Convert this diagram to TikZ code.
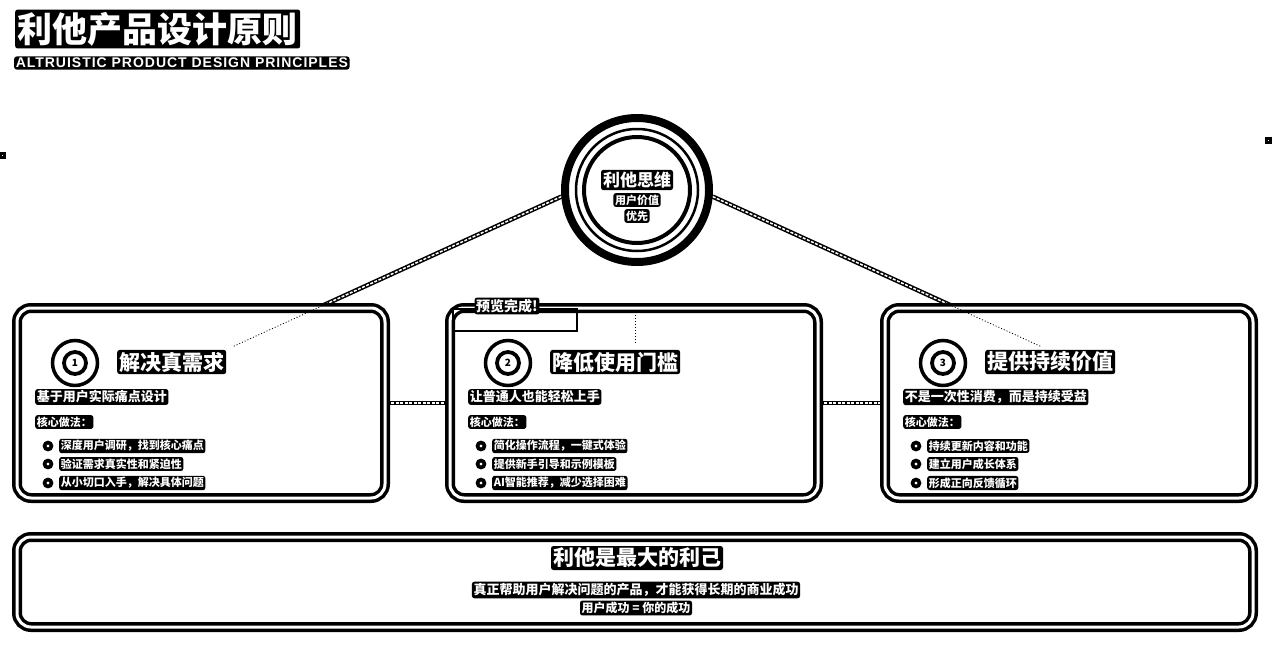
\documentclass[tikz,border=0pt]{standalone}
\usepackage{fontspec}
\setmainfont{Noto Sans CJK SC}
\newfontfamily\latinfont{Liberation Sans}[LetterSpace=7]
\usetikzlibrary{calc,backgrounds}

\tikzset{
    every node/.style={inner sep=0pt},
    haloed/.style={fill=black, text=white, rounded corners=2.5pt, inner sep=#1},
    haloed/.default=1.6pt,
    card/.style={draw=black, fill=white, line width=3.5pt, double=white, double distance=3pt,
        rounded corners=14pt, minimum width=368pt, minimum height=190pt},
    widecard/.style={card, minimum width=1236pt, minimum height=90pt},
    core/.style={circle, draw=black, fill=white, line width=8pt, minimum size=144pt},
    badge/.style={circle, draw=black, fill=white, line width=3.5pt, minimum size=45pt},
    badgecore/.style={circle, draw=black, fill=white, text=black, line width=3.8pt,
        minimum size=22pt, font=\bfseries\fontsize{10}{10}\selectfont},
    bulletmark/.style={circle, draw=black, fill=white, line width=3.6pt, minimum size=7pt},
    cardtitle/.style={haloed=2pt, anchor=west, font=\bfseries\fontsize{21}{23}\selectfont},
    cardlead/.style={haloed, anchor=west, font=\bfseries\fontsize{13}{15}\selectfont},
    cardsmall/.style={haloed, anchor=west, font=\bfseries\fontsize{11}{13}\selectfont},
    carditem/.style={haloed, anchor=west, font=\bfseries\fontsize{11}{13}\selectfont},
    linkband/.style={draw=black, line width=4.5pt,
        postaction={draw=white, line width=1.5pt, dash pattern=on 3pt off 1.5pt}},
    linkdot/.style={draw=black, line width=0.8pt, dash pattern=on 1pt off 2pt},
    speck/.style={rectangle, draw=black, fill=white, line width=3pt, minimum size=4pt},
}

\begin{document}
\begin{tikzpicture}[x=1pt, y=-1pt]
    \useasboundingbox (0,0) rectangle (1280,656);

    % Title
    \node[haloed=2.5pt, anchor=west, font=\bfseries\fontsize{35}{40}\selectfont] (title) at (15,29)
        {利他产品设计原则};
    \node[haloed=1.6pt, anchor=west, font=\latinfont\bfseries\fontsize{14}{16}\selectfont] (subtitle) at (14,63)
        {ALTRUISTIC PRODUCT DESIGN PRINCIPLES};

    % Specks
    \node[speck] (speckleft) at (2,155) {};
    \node[speck] (speckright) at (1268,140) {};

    % Core circle
    \node[core] (core) at (637,190) {};
    \draw[line width=2.5pt] (core.center) circle[radius=61pt];
    \draw[line width=4pt] (core.center) circle[radius=53pt];
    \node[haloed=2pt, font=\bfseries\fontsize{17}{19}\selectfont] (coretitle) at (637,180) {利他思维};
    \node[haloed, font=\bfseries\fontsize{11}{13}\selectfont] (corevalue) at (637,200) {用户价值};
    \node[haloed, font=\bfseries\fontsize{11}{13}\selectfont] (corefirst) at (637,216) {优先};

    % Cards
    \foreach \i/\cx/\cardhead/\cardtext/\pa/\pb/\pc in {
        1/201/解决真需求/基于用户实际痛点设计/深度用户调研，找到核心痛点/验证需求真实性和紧迫性/从小切口入手，解决具体问题,
        2/634/降低使用门槛/让普通人也能轻松上手/简化操作流程，一键式体验/提供新手引导和示例模板/AI智能推荐，减少选择困难,
        3/1069/提供持续价值/不是一次性消费，而是持续受益/持续更新内容和功能/建立用户成长体系/形成正向反馈循环} {
        \node[card] (b\i) at (\cx,403) {};
        \node[badge] (n\i) at (\cx-126,363) {};
        \node[badgecore] (m\i) at (n\i) {\i};
        \node[cardtitle] (t\i) at (\cx-84,362) {\cardhead};
        \node[cardlead] (l\i) at (\cx-166,397) {\cardtext};
        \node[cardsmall] (k\i) at (\cx-166,422) {核心做法：};
        \foreach \j/\y/\txt in {1/446/\pa, 2/464/\pb, 3/483/\pc} {
            \node[bulletmark] (d\i\j) at (\cx-153,\y) {};
            \node[carditem] (p\i\j) at (\cx-142,\y) {\txt};
        }
    }

    % Summary card
    \node[widecard] (summary) at (635,582) {};
    \node[haloed=2pt, font=\bfseries\fontsize{21}{23}\selectfont] (summarytitle) at (637,558) {利他是最大的利己};
    \node[haloed, font=\bfseries\fontsize{13}{15}\selectfont] (summarytext) at (636,590)
        {真正帮助用户解决问题的产品，才能获得长期的商业成功};
    \node[haloed, font=\bfseries\fontsize{12}{14}\selectfont] (summarynote) at (636,608)
        {用户成功 = 你的成功};

    % Preview tag
    \draw[line width=2pt] (453,309) rectangle (577,331);
    \node[haloed, font=\bfseries\fontsize{14}{16}\selectfont] (previewtag) at (507,306) {预览完成!};

    % Connectors
    \coordinate (e1) at (232,347);
    \coordinate (e3) at (1042,347);
    \coordinate (e2a) at (635,312);
    \coordinate (e2b) at (635,344);
    \coordinate (c1) at ($(core.185)!0.71!(e1)$);
    \coordinate (c3) at ($(core.355)!0.71!(e3)$);
    \begin{scope}[on background layer]
        \draw[linkband] (core.185) -- (e1);
        \draw[linkband] (core.355) -- (e3);
        \draw[linkband] (b1) -- (b2);
        \draw[linkband] (b2) -- (b3);
    \end{scope}
    \draw[linkdot] (c1) -- (e1);
    \draw[linkdot] (c3) -- (e3);
    \draw[linkdot] (e2a) -- (e2b);
\end{tikzpicture}
\end{document}
